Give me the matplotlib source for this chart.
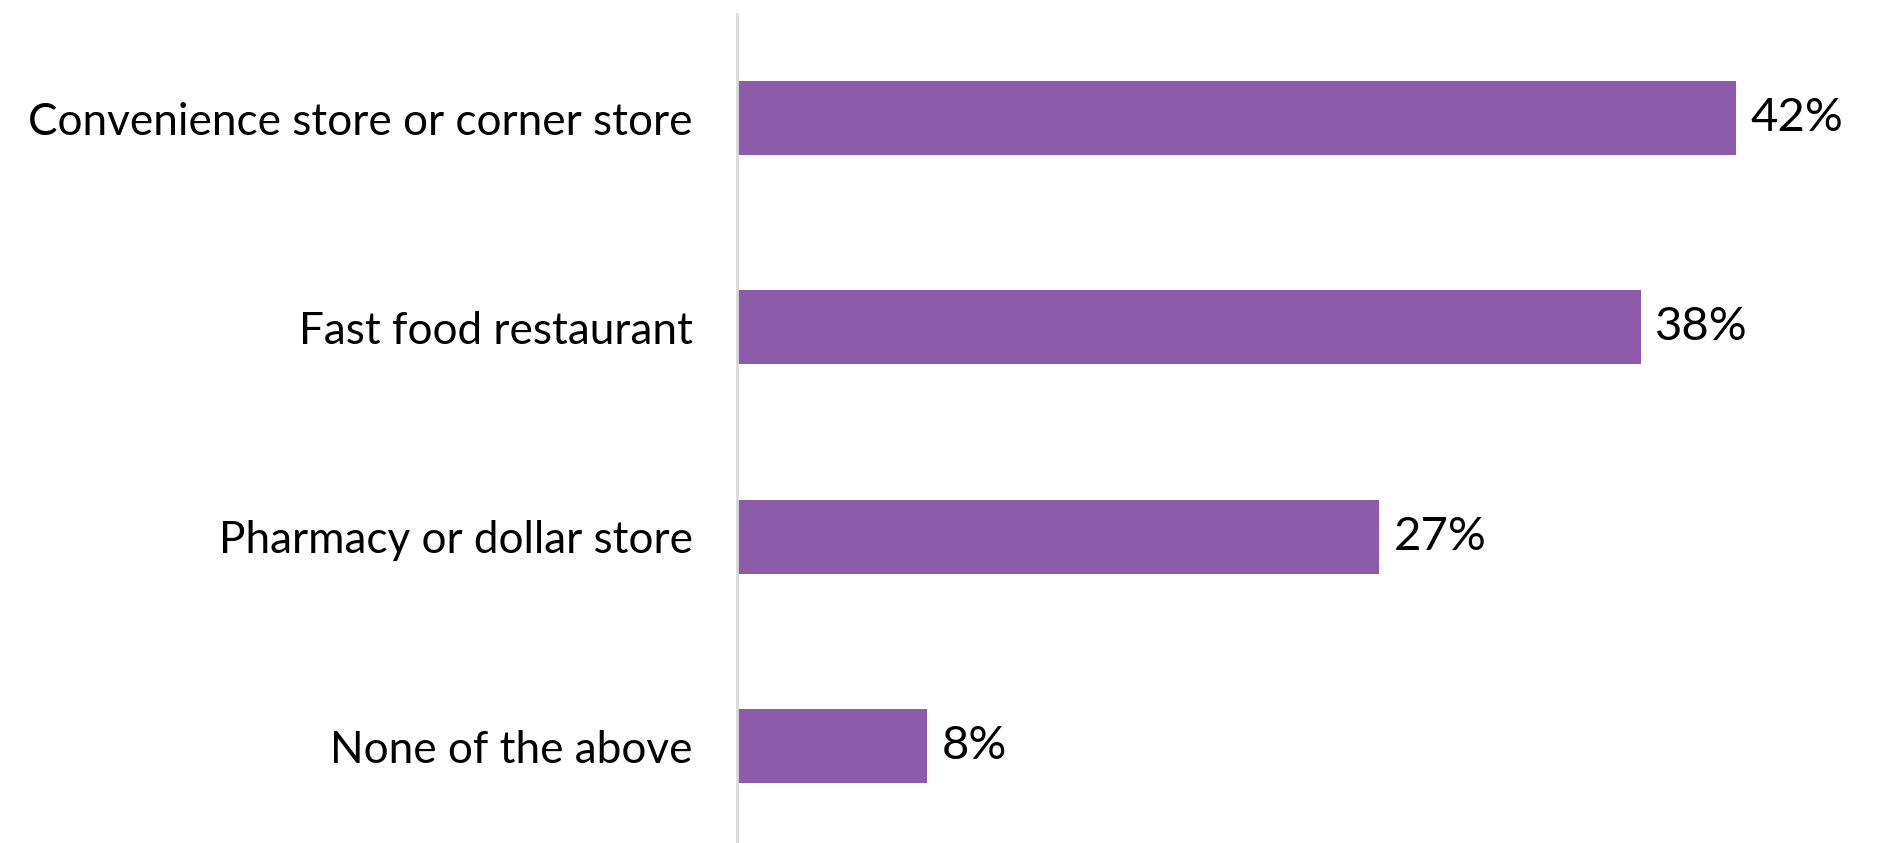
import matplotlib
matplotlib.use("Agg")
import matplotlib.pyplot as plt

categories = [
    "Convenience store or corner store",
    "Fast food restaurant",
    "Pharmacy or dollar store",
    "None of the above",
]
values = [42, 38, 27, 8]
value_labels = ["42%", "38%", "27%", "8%"]

bar_color = "#8C5BAA"
font = ["Lato", "DejaVu Sans"]

fig = plt.figure(figsize=(18.83, 8.43), dpi=100)
ax = fig.add_axes([737 / 1883, 0.0, 1 - 737 / 1883, 1 - 14 / 843])

pos = list(range(len(categories)))
ax.barh(pos, values, height=0.354, color=bar_color, zorder=2)

for p, v, lab in zip(pos, values, value_labels):
    ax.annotate(lab, xy=(v, p), xytext=(14, 0), textcoords="offset pixels",
                ha="left", va="center", fontsize=34, family=font, color="black")

ax.set_xlim(0, 48.17)
ax.set_ylim(3.463, -0.497)
ax.set_yticks(pos)
ax.set_yticklabels(categories, fontsize=31.8, family=font, color="black")
ax.tick_params(axis="y", length=0, pad=32)
ax.set_xticks([])

for s in ["top", "right", "bottom"]:
    ax.spines[s].set_visible(False)
ax.spines["left"].set_color("#D9D9D9")
ax.spines["left"].set_linewidth(2)

fig.savefig("out.png", dpi=100, facecolor="white")
